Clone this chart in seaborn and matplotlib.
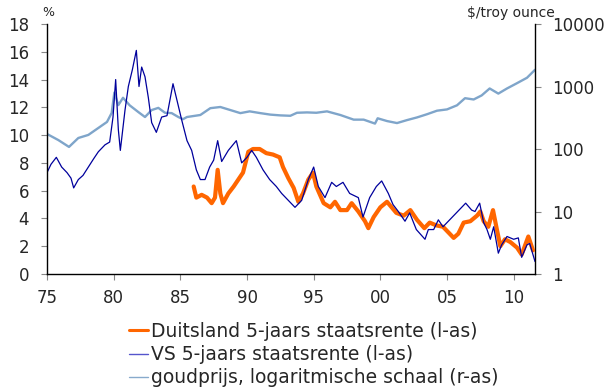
import matplotlib
matplotlib.use("Agg")
import matplotlib.pyplot as plt
from matplotlib.lines import Line2D
import seaborn as sns
import pandas as pd

# ---------------- data ----------------
us_years = [1975.0, 1975.3, 1975.7, 1976.1, 1976.5, 1976.8, 1977.0, 1977.35, 1977.7, 1978.1,
            1978.5, 1978.85, 1979.35, 1979.7, 1979.95, 1980.15, 1980.35, 1980.5, 1980.85, 1981.1,
            1981.4, 1981.7, 1981.9, 1982.1, 1982.35, 1982.6, 1982.85, 1983.2, 1983.6, 1984.0,
            1984.45, 1984.75, 1985.1, 1985.5, 1985.85, 1986.2, 1986.5, 1986.85, 1987.2, 1987.5,
            1987.8, 1988.1, 1988.6, 1989.2, 1989.6, 1990.0, 1990.35, 1990.7, 1991.2, 1991.7,
            1992.2, 1992.6, 1993.1, 1993.6, 1994.1, 1994.6, 1995.0, 1995.35, 1995.85, 1996.35,
            1996.7, 1997.2, 1997.7, 1998.35, 1998.7, 1999.2, 1999.7, 2000.1, 2000.6, 2000.95,
            2001.35, 2001.85, 2002.2, 2002.7, 2003.35, 2003.6, 2004.0, 2004.35, 2004.7, 2005.2,
            2005.7, 2006.4, 2006.85, 2007.1, 2007.45, 2007.75, 2008.0, 2008.25, 2008.5, 2008.85,
            2009.1, 2009.5, 2010.0, 2010.35, 2010.6, 2011.0, 2011.2, 2011.6]
us_rates = [7.3, 7.9, 8.4, 7.7, 7.3, 6.9, 6.2, 6.8, 7.1, 7.7,
            8.3, 8.8, 9.3, 9.5, 11.3, 14.0, 10.4, 8.9, 11.8, 13.5,
            14.7, 16.1, 13.5, 14.9, 14.2, 12.7, 10.9, 10.2, 11.3, 11.4,
            13.7, 12.5, 11.1, 9.6, 8.9, 7.5, 6.8, 6.8, 7.7, 8.2,
            9.6, 8.1, 8.9, 9.6, 8.0, 8.4, 8.9, 8.4, 7.5, 6.8,
            6.3, 5.8, 5.3, 4.8, 5.3, 6.8, 7.7, 6.3, 5.5, 6.6,
            6.3, 6.6, 5.8, 5.5, 4.1, 5.5, 6.3, 6.7, 5.8, 5.0,
            4.5, 3.8, 4.4, 3.2, 2.5, 3.2, 3.2, 3.9, 3.4, 3.9,
            4.4, 5.1, 4.6, 4.5, 5.1, 3.7, 3.2, 2.5, 3.4, 1.5,
            2.1, 2.7, 2.5, 2.6, 1.2, 2.1, 2.2, 0.9]

de_years = [1986.0, 1986.2, 1986.6, 1987.0, 1987.35, 1987.6, 1987.8, 1988.0, 1988.2, 1988.6,
            1989.0, 1989.35, 1989.7, 1990.1, 1990.45, 1990.95, 1991.45, 1991.95, 1992.45, 1992.7,
            1993.1, 1993.5, 1993.85, 1994.2, 1994.6, 1994.95, 1995.2, 1995.75, 1996.25, 1996.6,
            1997.0, 1997.5, 1997.85, 1998.35, 1998.85, 1999.1, 1999.5, 2000.0, 2000.5, 2000.85,
            2001.2, 2001.75, 2002.25, 2002.75, 2003.3, 2003.7, 2004.2, 2004.7, 2005.1, 2005.5,
            2005.85, 2006.25, 2006.75, 2007.25, 2007.5, 2007.75, 2008.1, 2008.45, 2008.7, 2009.0,
            2009.35, 2009.75, 2010.25, 2010.6, 2011.1, 2011.45]
de_rates = [6.3, 5.5, 5.7, 5.5, 5.1, 5.5, 7.5, 5.8, 5.1, 5.8,
            6.3, 6.8, 7.3, 8.8, 9.0, 9.0, 8.7, 8.6, 8.4, 7.7,
            6.9, 6.2, 5.2, 5.8, 6.8, 7.3, 6.3, 5.1, 4.8, 5.2,
            4.6, 4.6, 5.1, 4.5, 3.8, 3.3, 4.1, 4.8, 5.2, 4.8,
            4.4, 4.2, 4.6, 3.9, 3.3, 3.7, 3.5, 3.4, 3.0, 2.6,
            2.9, 3.7, 3.8, 4.2, 4.5, 3.8, 3.4, 4.6, 3.4, 2.0,
            2.5, 2.3, 1.9, 1.4, 2.7, 1.7]

gold_years = [1975.0, 1975.85, 1976.65, 1977.35, 1978.1, 1978.85, 1979.5, 1979.85, 1980.05, 1980.35,
              1980.7, 1981.2, 1981.85, 1982.35, 1982.85, 1983.35, 1983.85, 1984.35, 1984.85, 1985.2,
              1985.5, 1986.5, 1987.25, 1988.0, 1988.75, 1989.5, 1990.2, 1991.0, 1991.75, 1992.5,
              1993.25, 1993.75, 1994.5, 1995.2, 1996.0, 1997.0, 1998.0, 1998.75, 1999.6, 1999.8,
              2000.5, 2001.25, 2002.0, 2002.75, 2003.5, 2004.25, 2005.0, 2005.75, 2006.35, 2007.0,
              2007.6, 2008.2, 2008.85, 2009.5, 2010.25, 2011.0, 2011.6]
gold_prices = [174, 139, 108, 150, 168, 217, 271, 377, 800, 504,
               660, 500, 390, 325, 420, 455, 380, 375, 325, 300,
               325, 350, 450, 470, 420, 375, 400, 375, 355, 345,
               340, 380, 385, 380, 400, 350, 295, 295, 255, 310,
               280, 260, 290, 320, 360, 410, 430, 500, 650, 620,
               720, 930, 770, 930, 1130, 1380, 1850]

x_ticks = [1975, 1980, 1985, 1990, 1995, 2000, 2005, 2010]
x_tick_labels = ["75", "80", "85", "90", "95", "00", "05", "10"]
left_ticks = [0, 2, 4, 6, 8, 10, 12, 14, 16, 18]
right_ticks = [1, 10, 100, 1000, 10000]
right_tick_labels = ["1", "10", "100", "1000", "10000"]

labels = ["Duitsland 5-jaars staatsrente (l-as)",
          "VS 5-jaars staatsrente (l-as)",
          "goudprijs, logaritmische schaal (r-as)"]
c_de = "#FF6600"
c_us = "#00009C"
c_gold = "#7FA5CA"

# ---------------- plot ----------------
sns.set_style("white")
plt.rcParams["font.family"] = ["DejaVu Sans"]

fig = plt.figure(figsize=(6.11, 3.92), dpi=100)
ax = fig.add_axes([47 / 611, 1 - 274 / 392, (535 - 47) / 611, 250 / 392])
ax2 = ax.twinx()
ax.set_zorder(ax2.get_zorder() + 1)
ax.patch.set_visible(False)

us_df = pd.DataFrame({"jaar": us_years, "rente": us_rates})
de_df = pd.DataFrame({"jaar": de_years, "rente": de_rates})
gold_df = pd.DataFrame({"jaar": gold_years, "prijs": gold_prices})

sns.lineplot(data=gold_df, x="jaar", y="prijs", ax=ax2, color=c_gold, linewidth=1.7, legend=False)
sns.lineplot(data=de_df, x="jaar", y="rente", ax=ax, color=c_de, linewidth=3.0, legend=False)
sns.lineplot(data=us_df, x="jaar", y="rente", ax=ax, color=c_us, linewidth=0.9, legend=False)

ax.set_xlim(1975, 2011.6)
ax.set_ylim(0, 18)
ax2.set_yscale("log")
ax2.set_ylim(1, 10000)

ax.set_xticks(x_ticks)
ax.set_xticklabels(x_tick_labels)
ax.set_yticks(left_ticks)
ax.set_yticklabels([str(v) for v in left_ticks])
ax2.set_yticks(right_ticks)
ax2.set_yticklabels(right_tick_labels)
ax2.minorticks_off()

for a in (ax, ax2):
    a.set_xlabel("")
    a.set_ylabel("")
    a.spines["top"].set_visible(False)
    for s in ("left", "right", "bottom"):
        a.spines[s].set_color("black")
        a.spines[s].set_linewidth(1.0)
ax.spines["right"].set_visible(False)
ax2.spines["left"].set_visible(False)
ax2.spines["bottom"].set_visible(False)

ax.tick_params(axis="x", direction="out", length=4, width=0.8, color="#888888",
               labelsize=12, pad=7, bottom=True)
ax.tick_params(axis="y", direction="out", length=4, width=0.8, color="#888888",
               labelsize=12, pad=9, left=True)
ax2.tick_params(axis="y", direction="out", length=4, width=0.8, color="#888888",
                labelsize=12, pad=8, right=True)

fig.text(48 / 611, 1 - 13 / 392, "%", fontsize=9, ha="center", va="center")
fig.text(555 / 611, 1 - 13 / 392, "$/troy ounce", fontsize=10, ha="right", va="center")

handles = [Line2D([], [], color=c_de, linewidth=2.2),
           Line2D([], [], color="#5555CC", linewidth=1.0),
           Line2D([], [], color="#88AACC", linewidth=1.0)]
fig.legend(handles, labels, loc="upper left", bbox_to_anchor=(129 / 611, 1 - 322 / 392),
           frameon=False, fontsize=13.5, handlelength=1.0, handletextpad=0.15,
           labelspacing=0.22, borderaxespad=0, borderpad=0)

fig.savefig("out.png", dpi=100)
